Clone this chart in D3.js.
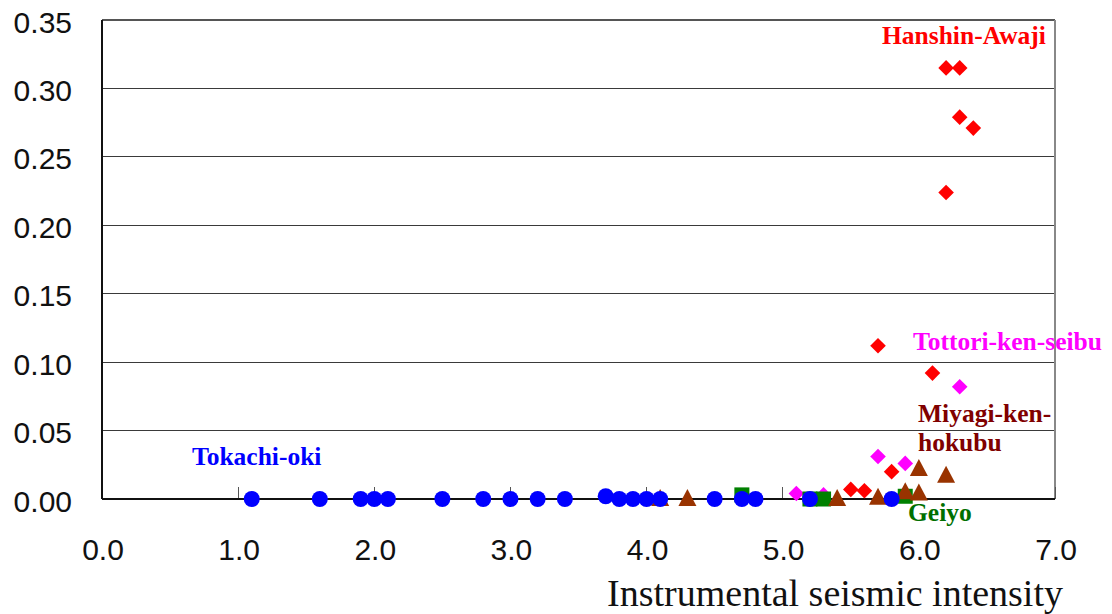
<!DOCTYPE html>
<html>
<head>
<meta charset="utf-8">
<script src="https://cdn.jsdelivr.net/npm/d3@7"></script>
<style>
html,body{margin:0;padding:0;background:#fff;}
svg{display:block;}
</style>
</head>
<body>
<svg id="chart" width="1112" height="614"></svg>
<script>
// ---- data ----
const xTicks = [0,1,2,3,4,5,6,7];
const yTicks = [0,0.05,0.10,0.15,0.20,0.25,0.30,0.35];

const hanshinX = [5.5,5.6,5.7,5.8,6.1,6.2,6.2,6.3,6.3,6.4];
const hanshinY = [0.007,0.006,0.112,0.020,0.092,0.224,0.315,0.315,0.279,0.271];

const tottoriX = [5.1,5.3,5.7,5.9,6.3];
const tottoriY = [0.004,0.003,0.031,0.026,0.082];

const geiyoX = [4.7,5.2,5.3,5.9];
const geiyoY = [0.003,0.0,0.0,0.002];

const miyagiX = [4.1,4.3,5.4,5.7,5.9,6.0,6.0,6.2];
const miyagiY = [0.0,0.0,0.0,0.001,0.005,0.004,0.022,0.017];

const tokachiX = [1.1,1.6,1.9,2.0,2.1,2.5,2.8,3.0,3.2,3.4,3.7,3.8,3.9,4.0,4.1,4.5,4.7,4.8,5.2,5.8];
const tokachiY = [0,0,0,0,0,0,0,0,0,0,0.002,0,0,0,0,0,0,0,0,0];

const seriesLabels = ["Hanshin-Awaji","Tottori-ken-seibu","Miyagi-ken-","hokubu","Tokachi-oki","Geiyo"];
const xTitle = "Instrumental seismic intensity";

// ---- layout ----
const svg = d3.select("#chart");
const L = 102, R = 1055, T = 20, B = 499;
const x = d3.scaleLinear().domain([0,7]).range([L,R]);
const y = d3.scaleLinear().domain([0,0.35]).range([B,T]);

// gridlines
svg.append("g").selectAll("line").data(yTicks.filter(v=>v>0 && v<0.35)).join("line")
  .attr("x1",L).attr("x2",R).attr("y1",d=>y(d)).attr("y2",d=>y(d))
  .attr("stroke","#3a3a3a").attr("stroke-width",1).attr("shape-rendering","crispEdges");

// frame: top and right gray
svg.append("line").attr("x1",L).attr("x2",R).attr("y1",T).attr("y2",T)
  .attr("stroke","#555").attr("stroke-width",1.5).attr("shape-rendering","crispEdges");
svg.append("line").attr("x1",R).attr("x2",R).attr("y1",T).attr("y2",B)
  .attr("stroke","#888").attr("stroke-width",1.5).attr("shape-rendering","crispEdges");

// x axis ticks (inward)
svg.append("g").selectAll("line").data(xTicks.filter(v=>v>0)).join("line")
  .attr("x1",d=>x(d)).attr("x2",d=>x(d)).attr("y1",B-12).attr("y2",B)
  .attr("stroke","#555").attr("stroke-width",1).attr("shape-rendering","crispEdges");

// left axis & bottom axis
svg.append("line").attr("x1",L).attr("x2",L).attr("y1",T).attr("y2",B)
  .attr("stroke","#111").attr("stroke-width",1.5).attr("shape-rendering","crispEdges");
svg.append("line").attr("x1",L).attr("x2",R).attr("y1",B).attr("y2",B)
  .attr("stroke","#111").attr("stroke-width",1.5).attr("shape-rendering","crispEdges");

// tick labels
svg.append("g").selectAll("text").data(yTicks).join("text")
  .attr("x",72).attr("y",d=>y(d)+12.5).attr("text-anchor","end")
  .attr("font-family","'Liberation Sans', Arial, sans-serif").attr("font-size",30)
  .attr("fill","#111").text(d=>d.toFixed(2));
svg.append("g").selectAll("text").data(xTicks).join("text")
  .attr("x",d=>x(d)+1).attr("y",560).attr("text-anchor","middle")
  .attr("font-family","'Liberation Sans', Arial, sans-serif").attr("font-size",30)
  .attr("fill","#111").text(d=>d.toFixed(1));

svg.append("text").attr("x",1063).attr("y",606).attr("text-anchor","end")
  .attr("font-family","'Liberation Serif', 'Times New Roman', serif").attr("font-size",38)
  .attr("fill","#111").text(xTitle);

// marks
const zip = (xs,ys)=>xs.map((v,i)=>({x:v,y:ys[i]}));
const diamond = d3.symbol(d3.symbolDiamond2,155)();
const g = svg.append("g");
g.append("g").selectAll("path").data(zip(hanshinX,hanshinY)).join("path")
  .attr("d",diamond)
  .attr("transform",d=>`translate(${x(d.x)},${y(d.y)})`).attr("fill","#ff0000");
g.append("g").selectAll("path").data(zip(tottoriX,tottoriY)).join("path")
  .attr("d",diamond)
  .attr("transform",d=>`translate(${x(d.x)},${y(d.y)})`).attr("fill","#ff00ff");
g.append("g").selectAll("rect").data(zip(geiyoX,geiyoY)).join("rect")
  .attr("x",d=>x(d.x)-7.5).attr("y",d=>y(d.y)-7.5).attr("width",15).attr("height",15)
  .attr("fill","#008000");
g.append("g").selectAll("path").data(zip(miyagiX,miyagiY)).join("path")
  .attr("d",d=>{const cx=x(d.x), cy=y(d.y); return `M${cx},${cy-10}L${cx+9},${cy+7}L${cx-9},${cy+7}Z`;})
  .attr("fill","#993300");
g.append("g").selectAll("circle").data(zip(tokachiX,tokachiY)).join("circle")
  .attr("cx",d=>x(d.x)).attr("cy",d=>y(d.y)).attr("r",8).attr("fill","#0000ff");

// series labels
const lab = [
  {t:seriesLabels[0], x:882, y:44, c:"#ff0000"},
  {t:seriesLabels[1], x:913, y:350, c:"#ff00ff"},
  {t:seriesLabels[2], x:918, y:422, c:"#800000"},
  {t:seriesLabels[3], x:918, y:451, c:"#800000"},
  {t:seriesLabels[4], x:192, y:465, c:"#0000ff"},
  {t:seriesLabels[5], x:908, y:521, c:"#006f00"}
];
svg.append("g").selectAll("text").data(lab).join("text")
  .attr("x",d=>d.x).attr("y",d=>d.y)
  .attr("font-family","'Liberation Serif', 'Times New Roman', serif")
  .attr("font-weight","bold").attr("font-size",25.5)
  .attr("fill",d=>d.c).text(d=>d.t);
</script>
</body>
</html>
